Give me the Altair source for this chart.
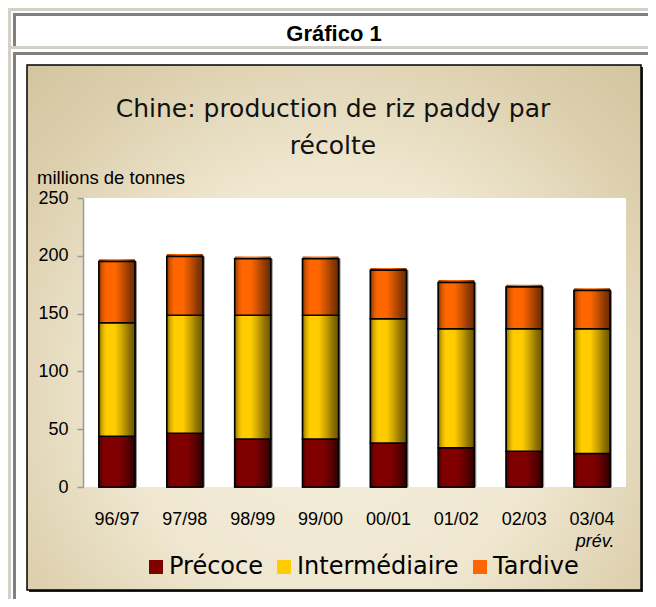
import altair as alt
import pandas as pd

# ---------------- data ----------------
seasons = ["96/97", "97/98", "98/99", "99/00", "00/01", "01/02", "02/03", "03/04"]
precoce = [44, 46.5, 41.5, 41.5, 38, 34, 31, 29]
intermediaire = [98, 102, 107, 107, 107.5, 103, 106, 108]
tardive = [53, 51, 49, 49, 42, 40, 36, 33]
series_names = ["Précoce", "Intermédiaire", "Tardive"]
series_colors = ["#800000", "#ffcc00", "#ff6600"]
y_ticks = [0, 50, 100, 150, 200, 250]
note_season = ["03/04"]
note_text = ["prév."]

rows = []
for i, s in enumerate(seasons):
    for k, vals in enumerate([precoce, intermediaire, tardive]):
        rows.append({"season": s, "series": series_names[k], "value": vals[i], "ord": k})
df = pd.DataFrame(rows)
notes = pd.DataFrame({"season": note_season, "note": note_text})
dummy = pd.DataFrame({"k": [0]})

# ---------------- styles ----------------
def hgrad(stops):
    return {"gradient": "linear", "x1": 0, "x2": 1, "y1": 0, "y2": 0,
            "stops": [{"offset": o, "color": c} for o, c in stops]}

grads = {
    "Précoce": hgrad([(0, "#4a0000"), (0.12, "#800000"), (0.55, "#800000"),
                      (0.8, "#5a0000"), (1, "#2e0000")]),
    "Intermédiaire": hgrad([(0, "#8a7000"), (0.1, "#d9ad00"), (0.2, "#ffcc00"),
                            (0.45, "#ffcc00"), (0.65, "#c9a200"), (0.85, "#8c7000"),
                            (1, "#6b5500")]),
    "Tardive": hgrad([(0, "#8a3700"), (0.1, "#d95700"), (0.2, "#ff6600"),
                      (0.45, "#ff6600"), (0.65, "#c95100"), (0.85, "#8c3800"),
                      (1, "#6b2b00")]),
}
frame_grad = {"gradient": "radial", "x1": 0.5, "y1": 0.6, "r1": 0,
              "x2": 0.5, "y2": 0.6, "r2": 0.78,
              "stops": [{"offset": 0, "color": "#f4eedc"},
                        {"offset": 0.45, "color": "#efe7d0"},
                        {"offset": 0.75, "color": "#dccfad"},
                        {"offset": 1, "color": "#cfc198"}]}

W, H = 543, 289

x_enc = alt.X("season:N", sort=seasons,
              scale=alt.Scale(domain=seasons, paddingInner=0.47, paddingOuter=0.235),
              axis=alt.Axis(title=None, labelAngle=0, ticks=False, tickSize=0, domain=False,
                            labelPadding=23, labelFont="Liberation Sans", labelFontSize=18,
                            labelColor="black", zindex=1))
y_scale = alt.Scale(domain=[0, 250], nice=False)
y_axis = alt.Axis(title=None, values=y_ticks, grid=False, tickSize=6, tickColor="#999999",
                  tickWidth=1.5, domainColor="#999999", domainWidth=1.5, labelPadding=9,
                  labelFont="Liberation Sans", labelFontSize=18, labelColor="black", zindex=1)


def rect(x1, x2, y1, y2, **kw):
    return alt.Chart(dummy).mark_rect(**kw).encode(
        x=alt.value(x1), x2=alt.value(x2), y=alt.value(y1), y2=alt.value(y2))


def txt(s, xx, yy, color="black", **kw):
    return alt.Chart(dummy).mark_text(text=s, baseline="alphabetic", color=color, **kw).encode(
        x=alt.value(xx), y=alt.value(yy))


LG = "#d4d0c8"
DG = "#808080"
decor = [
    rect(-75, 565, -190, 401, fill="white"),
    rect(-75, -72, -190, 401, fill=LG),
    rect(-75, 565, -190, -187, fill=LG),
    rect(-70, 565, -185, -182, fill=DG),
    rect(-70, -67, -185, -152, fill=DG),
    rect(-72, 565, -152, -149, fill=LG),
    rect(-70, 565, -146, -143, fill=DG),
    rect(-70, -67, -146, 401, fill=DG),
    rect(-54, 560, -131, 394, fill="#222222"),
    rect(-56, 558, -133, 392, fill=frame_grad, stroke="black", strokeWidth=1.5),
    rect(0, W, 0, H, fill="white"),
    txt("Gráfico 1", 251, -157, font="Liberation Sans", fontSize=22, fontWeight="bold", align="center"),
    txt("Chine: production de riz paddy par", 250, -81, color="#111111", font="DejaVu Sans", fontSize=25, align="center"),
    txt("récolte", 250, -44, color="#111111", font="DejaVu Sans", fontSize=25, align="center"),
    txt("millions de tonnes", -46, -14, font="Liberation Sans", fontSize=18.5, align="left"),
]

base = alt.Chart(df).mark_bar(stroke="black", strokeWidth=1.5).encode(
    x=x_enc,
    y=alt.Y("value:Q", stack="zero", scale=y_scale, axis=y_axis),
    color=alt.Color("series:N", sort=series_names,
                    scale=alt.Scale(domain=series_names, range=series_colors),
                    legend=alt.Legend(title=None, orient="none", legendX=61, legendY=357,
                                      direction="horizontal", columns=3,
                                      symbolType="square", symbolSize=196,
                                      symbolStrokeWidth=0, symbolOpacity=1,
                                      labelFont="DejaVu Sans", labelFontSize=24,
                                      labelColor="black", labelOffset=1, columnPadding=9,
                                      labelLimit=400, padding=0, zindex=1)),
    order=alt.Order("ord:Q"),
)

stacked = alt.Chart(df).transform_stack(
    stack="value", groupby=["season"], as_=["y0", "y1"],
    sort=[alt.SortField("ord", order="ascending")])

totals = alt.Chart(df).transform_aggregate(total="sum(value)", groupby=["season"])

shadow = totals.mark_bar(color="#8c8c8c", xOffset=2).encode(
    x=x_enc, y=alt.Y("total:Q", scale=y_scale, axis=y_axis), y2=alt.datum(0))

cap = totals.transform_calculate(top="datum.total + 2").mark_bar(
    fill=hgrad([(0, "#b34700"), (0.3, "#ff6600"), (0.6, "#ff6600"), (1, "#803300")]),
    strokeWidth=0).encode(
    x=x_enc, y=alt.Y("total:Q", scale=y_scale, axis=y_axis), y2="top:Q")

seg_layers = []
for name in series_names:
    seg_layers.append(
        stacked.transform_filter(alt.datum.series == name).mark_bar(
            fill=grads[name], stroke="black", strokeWidth=1.5).encode(
            x=x_enc, y=alt.Y("y0:Q", scale=y_scale, axis=y_axis), y2="y1:Q"))

note = alt.Chart(notes).mark_text(font="Liberation Sans", fontSize=18, fontStyle="italic",
                                  color="black", baseline="alphabetic", dx=3).encode(
    x=x_enc, y=alt.value(349), text="note:N")

chart = alt.layer(*decor, cap, shadow, base, *seg_layers, note).properties(
    width=W, height=H,
    autosize=alt.AutoSizeParams(type="none"),
    padding={"left": 75, "top": 190, "right": 22, "bottom": 112},
).configure_view(strokeWidth=0).configure(background="white")

chart.save("out.html", embed_options={"renderer": "svg", "actions": False})
